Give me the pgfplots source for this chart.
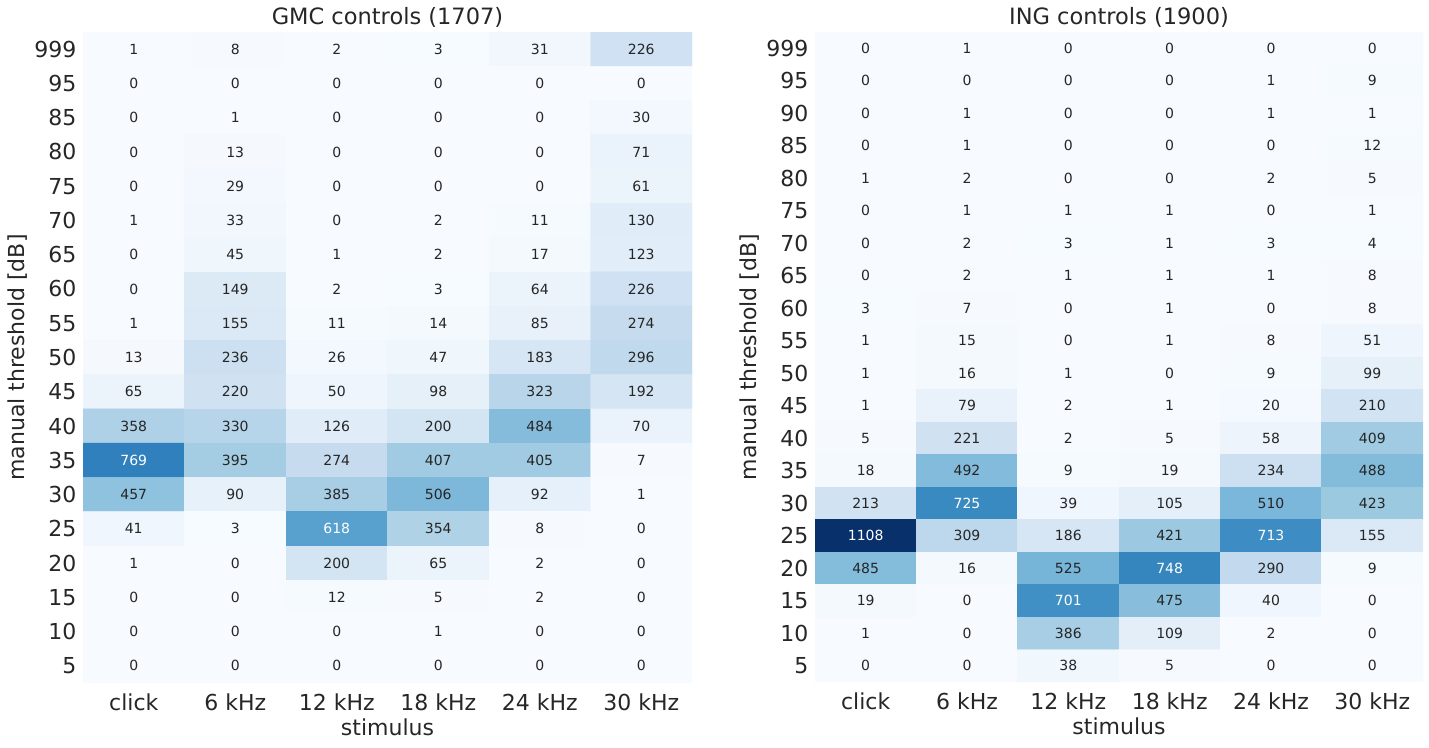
\documentclass[border=0pt]{standalone}
\usepackage{pgfplots}
\pgfplotsset{compat=1.18}
\usepackage{fontspec}
\setmainfont{DejaVu Sans}
\definecolor{txt}{gray}{0.15}

\pgfplotsset{
  colormap={blues}{rgb255=(247,251,255) rgb255=(222,235,247) rgb255=(198,219,239)
    rgb255=(158,202,225) rgb255=(107,174,214) rgb255=(66,146,198) rgb255=(33,113,181)
    rgb255=(8,81,156) rgb255=(8,48,107)},
  heat/.style={
    scale only axis, anchor=south west,
    xmin=-0.5, xmax=5.5, ymin=-0.5, ymax=#1-0.5, y dir=reverse,
    axis line style={draw=none}, major tick length=0pt,
    xtick={0,...,5}, xticklabels={click,6 kHz,12 kHz,18 kHz,24 kHz,30 kHz},
    ytick={0,...,30},
    colormap name=blues, point meta min=0, point meta max=1108,
    tick label style={font=\fontsize{22}{26}\selectfont, text=txt},
    yticklabel style={xshift=-3pt},
    xticklabel style={yshift=-7pt},
    label style={font=\fontsize{22}{26}\selectfont, text=txt},
    xlabel style={yshift=-1pt},
    title style={font=\fontsize{22.5}{26}\selectfont, text=txt, yshift=-5pt},
    xlabel=stimulus, ylabel={manual threshold [dB]},
  },
  cells/.style={
    matrix plot*, mesh/cols=6, point meta=explicit,
    nodes near coords={\ifdim\pgfplotspointmetatransformed pt>541pt\color{white}\else\color{txt}\fi
      \pgfmathprintnumber[assume math mode=true, 1000 sep={}]{\pgfplotspointmeta}},
    nodes near coords align=center,
    every node near coord/.append style={font=\fontsize{14}{16}\selectfont, anchor=center},
  },
}

\begin{document}
\begin{tikzpicture}
\useasboundingbox (0,0) rectangle (1429pt,747pt);

\begin{axis}[heat=19, at={(83pt,64pt)}, width=609pt, height=651pt,
  title={GMC controls (1707)},
  yticklabels={999,95,85,80,75,70,65,60,55,50,45,40,35,30,25,20,15,10,5}]
\addplot[cells] coordinates {
(0,0)[1] (1,0)[8] (2,0)[2] (3,0)[3] (4,0)[31] (5,0)[226]
(0,1)[0] (1,1)[0] (2,1)[0] (3,1)[0] (4,1)[0] (5,1)[0]
(0,2)[0] (1,2)[1] (2,2)[0] (3,2)[0] (4,2)[0] (5,2)[30]
(0,3)[0] (1,3)[13] (2,3)[0] (3,3)[0] (4,3)[0] (5,3)[71]
(0,4)[0] (1,4)[29] (2,4)[0] (3,4)[0] (4,4)[0] (5,4)[61]
(0,5)[1] (1,5)[33] (2,5)[0] (3,5)[2] (4,5)[11] (5,5)[130]
(0,6)[0] (1,6)[45] (2,6)[1] (3,6)[2] (4,6)[17] (5,6)[123]
(0,7)[0] (1,7)[149] (2,7)[2] (3,7)[3] (4,7)[64] (5,7)[226]
(0,8)[1] (1,8)[155] (2,8)[11] (3,8)[14] (4,8)[85] (5,8)[274]
(0,9)[13] (1,9)[236] (2,9)[26] (3,9)[47] (4,9)[183] (5,9)[296]
(0,10)[65] (1,10)[220] (2,10)[50] (3,10)[98] (4,10)[323] (5,10)[192]
(0,11)[358] (1,11)[330] (2,11)[126] (3,11)[200] (4,11)[484] (5,11)[70]
(0,12)[769] (1,12)[395] (2,12)[274] (3,12)[407] (4,12)[405] (5,12)[7]
(0,13)[457] (1,13)[90] (2,13)[385] (3,13)[506] (4,13)[92] (5,13)[1]
(0,14)[41] (1,14)[3] (2,14)[618] (3,14)[354] (4,14)[8] (5,14)[0]
(0,15)[1] (1,15)[0] (2,15)[200] (3,15)[65] (4,15)[2] (5,15)[0]
(0,16)[0] (1,16)[0] (2,16)[12] (3,16)[5] (4,16)[2] (5,16)[0]
(0,17)[0] (1,17)[0] (2,17)[0] (3,17)[1] (4,17)[0] (5,17)[0]
(0,18)[0] (1,18)[0] (2,18)[0] (3,18)[0] (4,18)[0] (5,18)[0]
};
\end{axis}

\begin{axis}[heat=20, at={(815pt,65pt)}, width=608pt, height=650pt,
  title={ING controls (1900)},
  yticklabels={999,95,90,85,80,75,70,65,60,55,50,45,40,35,30,25,20,15,10,5}]
\addplot[cells] coordinates {
(0,0)[0] (1,0)[1] (2,0)[0] (3,0)[0] (4,0)[0] (5,0)[0]
(0,1)[0] (1,1)[0] (2,1)[0] (3,1)[0] (4,1)[1] (5,1)[9]
(0,2)[0] (1,2)[1] (2,2)[0] (3,2)[0] (4,2)[1] (5,2)[1]
(0,3)[0] (1,3)[1] (2,3)[0] (3,3)[0] (4,3)[0] (5,3)[12]
(0,4)[1] (1,4)[2] (2,4)[0] (3,4)[0] (4,4)[2] (5,4)[5]
(0,5)[0] (1,5)[1] (2,5)[1] (3,5)[1] (4,5)[0] (5,5)[1]
(0,6)[0] (1,6)[2] (2,6)[3] (3,6)[1] (4,6)[3] (5,6)[4]
(0,7)[0] (1,7)[2] (2,7)[1] (3,7)[1] (4,7)[1] (5,7)[8]
(0,8)[3] (1,8)[7] (2,8)[0] (3,8)[1] (4,8)[0] (5,8)[8]
(0,9)[1] (1,9)[15] (2,9)[0] (3,9)[1] (4,9)[8] (5,9)[51]
(0,10)[1] (1,10)[16] (2,10)[1] (3,10)[0] (4,10)[9] (5,10)[99]
(0,11)[1] (1,11)[79] (2,11)[2] (3,11)[1] (4,11)[20] (5,11)[210]
(0,12)[5] (1,12)[221] (2,12)[2] (3,12)[5] (4,12)[58] (5,12)[409]
(0,13)[18] (1,13)[492] (2,13)[9] (3,13)[19] (4,13)[234] (5,13)[488]
(0,14)[213] (1,14)[725] (2,14)[39] (3,14)[105] (4,14)[510] (5,14)[423]
(0,15)[1108] (1,15)[309] (2,15)[186] (3,15)[421] (4,15)[713] (5,15)[155]
(0,16)[485] (1,16)[16] (2,16)[525] (3,16)[748] (4,16)[290] (5,16)[9]
(0,17)[19] (1,17)[0] (2,17)[701] (3,17)[475] (4,17)[40] (5,17)[0]
(0,18)[1] (1,18)[0] (2,18)[386] (3,18)[109] (4,18)[2] (5,18)[0]
(0,19)[0] (1,19)[0] (2,19)[38] (3,19)[5] (4,19)[0] (5,19)[0]
};
\end{axis}
\end{tikzpicture}
\end{document}
